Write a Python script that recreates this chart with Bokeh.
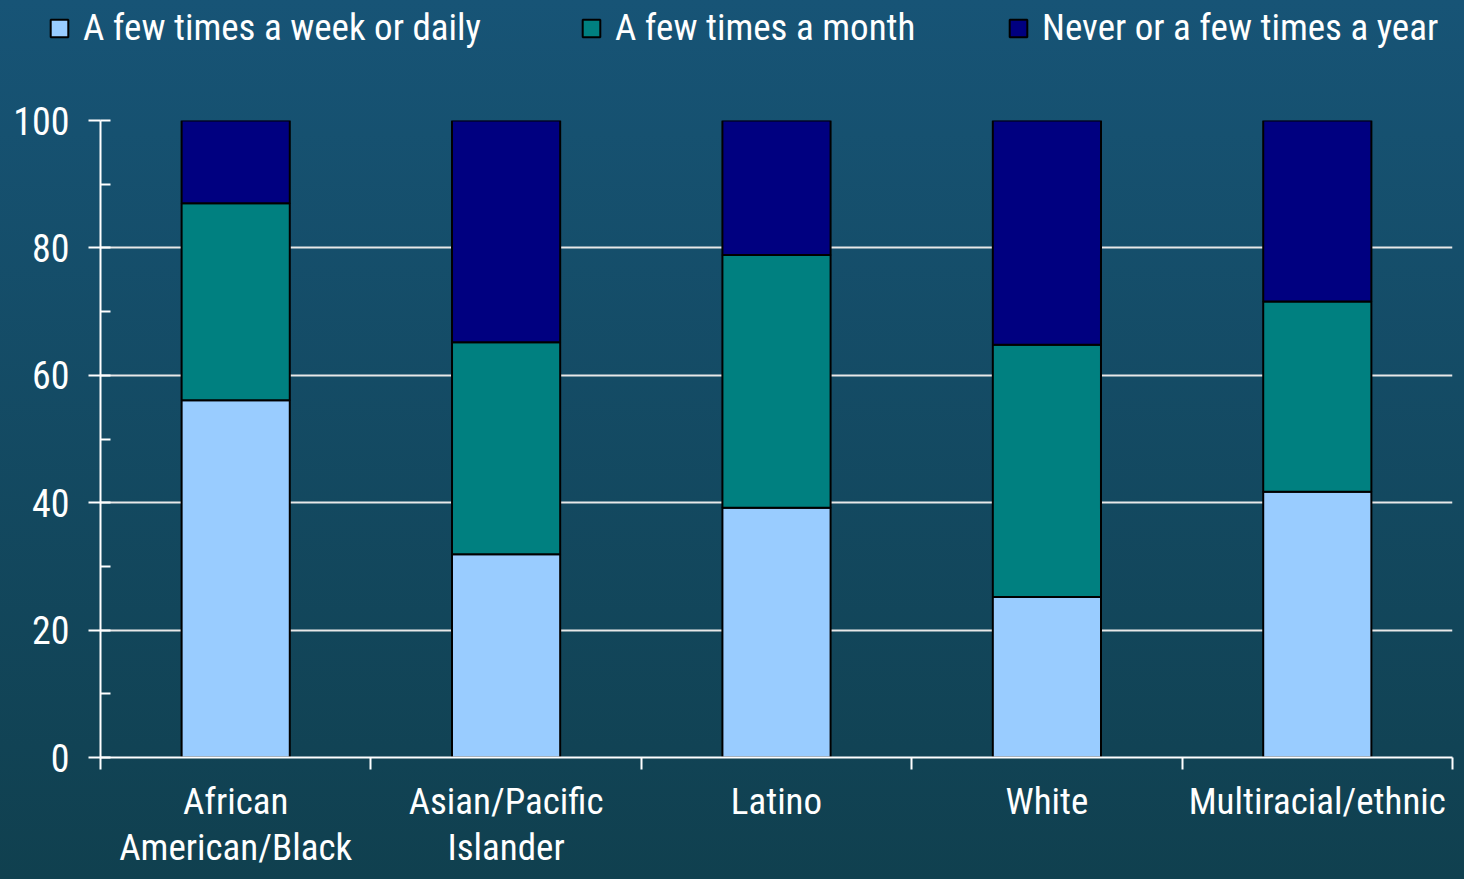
from bokeh.plotting import figure
from bokeh.models import (Range1d, LinearAxis, FixedTicker, ColumnDataSource,
                          SingleIntervalTicker, Legend, LegendItem, GlobalInlineStyleSheet)
from bokeh.embed import file_html
from bokeh.resources import INLINE

categories = ["African\nAmerican/Black", "Asian/Pacific\nIslander", "Latino", "White", "Multiracial/ethnic"]
series_names = ["A few times a week or daily", "A few times a month", "Never or a few times a year"]
weekly = [56.1, 31.9, 39.2, 25.2, 41.7]
monthly = [30.9, 33.3, 39.7, 39.6, 29.9]
yearly = [13.0, 34.8, 21.1, 35.2, 28.4]
colors = ["#99CCFF", "#008080", "#000080"]
y_ticks = [0, 20, 40, 60, 80, 100]

FONT = "Roboto Condensed, Liberation Sans Narrow, DejaVu Sans Condensed, sans-serif"
FS = "37px"

n = len(categories)
centers = [i + 0.5 for i in range(n)]
edges = list(range(n + 1))
keys = ["weekly", "monthly", "yearly"]
source = ColumnDataSource(dict(x=centers, weekly=weekly, monthly=monthly, yearly=yearly))

LEG_H = 60

def transparent(fig):
    fig.background_fill_color = None
    fig.border_fill_color = None
    fig.outline_line_color = None

# ---- legend strip (its own root, so its frame is not aligned with the chart's) ----
pl = figure(x_range=Range1d(0, n), y_range=Range1d(0, 100), width=1448, height=LEG_H,
            output_backend="svg", toolbar_location=None,
            x_axis_location=None, y_axis_location=None,
            min_border_left=0, min_border_right=0, min_border_top=0, min_border_bottom=0)
transparent(pl)
pl.xgrid.grid_line_color = None
pl.ygrid.grid_line_color = None
proxies = pl.vbar_stack(keys, x="x", width=0.4, color=colors, source=source,
                        line_color="black", line_width=2)
legend_x = [40, 572, 999]
for s, r, lx in zip(series_names, proxies, legend_x):
    r.visible = False
    lg = Legend(items=[LegendItem(label=s, renderers=[r])], location=(lx, 19))
    lg.background_fill_alpha = 0
    lg.border_line_color = None
    lg.inactive_fill_alpha = 0
    lg.label_text_font = FONT
    lg.label_text_font_size = FS
    lg.label_text_color = "white"
    lg.glyph_width = 22
    lg.glyph_height = 22
    lg.label_standoff = 13
    lg.padding = 0
    lg.margin = 0
    lg.click_policy = "none"
    pl.add_layout(lg, "center")

# ---- main chart ----
p = figure(x_range=Range1d(0, n), y_range=Range1d(0, 100),
           width=1448, height=863 - LEG_H, output_backend="svg", toolbar_location=None,
           x_axis_location=None, y_axis_location=None,
           min_border_left=92, min_border_right=4, min_border_top=112 - LEG_H, min_border_bottom=100)
transparent(p)
p.stylesheets = [GlobalInlineStyleSheet(css="html { margin: 0; height: 100%; } body { margin: 8px; min-height: calc(100% - 16px); background: linear-gradient(to bottom, #175476 0%, #10404f 100%); background-attachment: fixed; }")]

# y axis
yax = LinearAxis(ticker=SingleIntervalTicker(interval=20, num_minor_ticks=2))
yax.axis_line_color = "white"
yax.axis_line_width = 2
yax.major_tick_line_color = "white"
yax.major_tick_line_width = 2
yax.major_tick_out = 12
yax.major_tick_in = 0
yax.minor_tick_line_color = "white"
yax.minor_tick_line_width = 2
yax.minor_tick_out = 0
yax.minor_tick_in = 10
yax.major_label_text_font = FONT
yax.major_label_text_font_size = "38px"
yax.major_label_text_color = "white"
yax.major_label_standoff = 19
p.add_layout(yax, "left")

# x axis: labels at category centres, tick marks at category edges
xax = LinearAxis(ticker=FixedTicker(ticks=centers, minor_ticks=edges))
xax.axis_line_color = "white"
xax.axis_line_width = 2
xax.major_tick_line_color = None
xax.major_tick_out = 0
xax.major_tick_in = 0
xax.minor_tick_line_color = "white"
xax.minor_tick_line_width = 2
xax.minor_tick_out = 12
xax.minor_tick_in = 0
xax.major_label_text_font = FONT
xax.major_label_text_font_size = FS
xax.major_label_text_color = "white"
xax.major_label_text_line_height = 1.07
xax.major_label_standoff = 10
xax.major_label_overrides = {c: lab for c, lab in zip(centers, categories)}
p.add_layout(xax, "below")

# grid
p.ygrid.ticker = FixedTicker(ticks=y_ticks)
p.ygrid.grid_line_color = "#e8e8e8"
p.ygrid.grid_line_width = 2
p.xgrid.grid_line_color = None

p.vbar_stack(keys, x="x", width=0.4, color=colors, source=source,
             line_color="black", line_width=2)

open("out.html", "w").write(file_html([pl, p], INLINE))
